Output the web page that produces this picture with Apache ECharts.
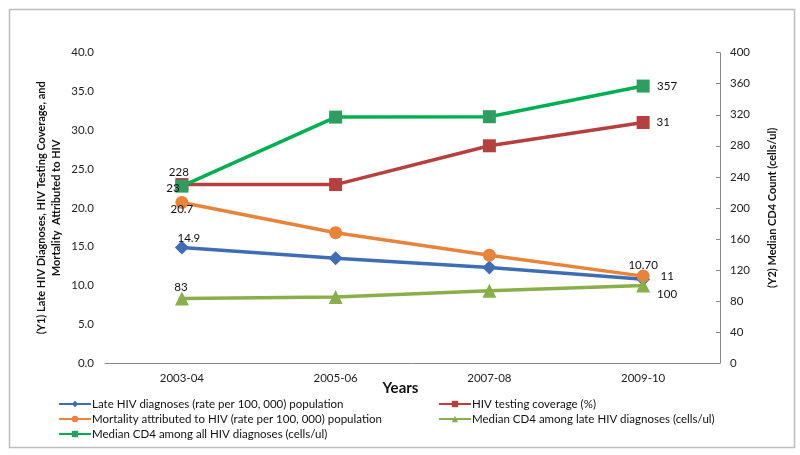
<!DOCTYPE html>
<html>
<head>
<meta charset="utf-8">
<script src="https://cdn.jsdelivr.net/npm/echarts@6/dist/echarts.min.js"></script>
<style>html,body{margin:0;padding:0;background:#fff}#c{width:800px;height:455px}</style>
</head>
<body>
<div id="c"></div>
<script>
const categories = ['2003-04', '2005-06', '2007-08', '2009-10'];
const lateDiag = [14.9, 13.5, 12.3, 10.8];
const testing = [23, 23, 28, 31];
const mortality = [20.7, 16.8, 13.9, 11.2];
const cd4Late = [83, 85, 93, 100];
const cd4All = [228, 317, 317.5, 357];
const lateDiagLabels = ['14.9', '', '', '11'];
const testingLabels = ['23', '', '', '31'];
const mortalityLabels = ['20.7', '', '', '10.70'];
const cd4LateLabels = ['83', '', '', '100'];
const cd4AllLabels = ['228', '', '', '357'];
const y1Ticks = { min: 0, max: 40, interval: 5 };
const y2Ticks = { min: 0, max: 400, interval: 40 };

const FONT = 'Lato';
const FS = 11.5;
function withLabels(vals, labels, offsets) {
  return vals.map((v, i) => {
    if (!labels[i]) return v;
    return {
      value: v,
      label: {
        show: true, formatter: labels[i], position: 'inside',
        offset: offsets[i], color: '#111', fontSize: FS, fontFamily: FONT
      }
    };
  });
}
function ser(name, data, color, symbol, size, yIdx, symColor) {
  return {
    name, type: 'line', data, yAxisIndex: yIdx,
    symbol, symbolSize: size,
    itemStyle: { color: symColor || color },
    lineStyle: { color, width: 3.5 },
    emphasis: { disabled: true },
    label: { show: false }
  };
}
const legendCommon = {
  orient: 'vertical', top: 397, padding: 0,
  itemWidth: 32, itemHeight: 8, itemGap: 1,
  textStyle: { fontSize: FS, color: '#111', fontFamily: FONT, lineHeight: 14, padding: [0, 0, 0, -4] }
};
const chart = echarts.init(document.getElementById('c'), null, { renderer: 'canvas' });
chart.setOption({
  animation: false,
  backgroundColor: '#fff',
  textStyle: { fontFamily: FONT },
  grid: { left: 105, right: 80, top: 52.7, bottom: 92 },
  xAxis: {
    type: 'category', data: categories, boundaryGap: true,
    axisLine: { lineStyle: { color: '#868686', width: 1 } },
    axisTick: { show: false },
    axisLabel: { color: '#222', fontSize: FS, margin: 9, fontFamily: FONT },
    name: 'Years', nameLocation: 'middle', nameGap: 18, nameMoveOverlap: false,
    nameTextStyle: { fontWeight: 'bold', fontSize: 15, color: '#111', fontFamily: FONT, padding: [0, 24, 0, 0] }
  },
  yAxis: [{
    type: 'value', min: y1Ticks.min, max: y1Ticks.max, interval: y1Ticks.interval,
    axisLine: { show: false }, axisTick: { show: false }, splitLine: { show: false },
    axisLabel: { color: '#222', fontSize: FS, margin: 11, fontFamily: FONT, formatter: v => v.toFixed(1) },
    name: '(Y1) Late HIV Diagnoses, HIV Testing Coverage, and\nMortality  Attributed to HIV',
    nameLocation: 'middle', nameGap: 41, nameRotate: 90, nameMoveOverlap: false,
    nameTextStyle: { fontWeight: 'bold', fontSize: 11, lineHeight: 15, color: '#111', fontFamily: FONT }
  }, {
    type: 'value', position: 'right', min: y2Ticks.min, max: y2Ticks.max, interval: y2Ticks.interval,
    axisLine: { show: true, lineStyle: { color: '#868686', width: 1 } },
    axisTick: { show: true, inside: true, length: 4, lineStyle: { color: '#868686' } },
    splitLine: { show: false },
    axisLabel: { color: '#222', fontSize: FS, margin: 10, fontFamily: FONT },
    name: '(Y2) Median CD4 Count (cells/ul)',
    nameLocation: 'middle', nameGap: 47, nameRotate: 90,
    nameTextStyle: { fontWeight: 'bold', fontSize: 11, color: '#111', fontFamily: FONT }
  }],
  legend: [Object.assign({}, legendCommon, {
    left: 58,
    data: ['Late HIV diagnoses (rate per 100, 000) population',
           'Mortality attributed to HIV (rate per 100, 000) population',
           'Median CD4 among all HIV diagnoses (cells/ul)']
  }), Object.assign({}, legendCommon, {
    left: 438,
    data: ['HIV testing coverage (%)',
           'Median CD4 among late HIV diagnoses (cells/ul)']
  })],
  graphic: [{
    type: 'rect', left: 7, top: 7, silent: true,
    shape: { width: 785, height: 438 },
    style: { fill: 'none', stroke: '#bdbdbd', lineWidth: 1.5 }
  }],
  series: [
    ser('Late HIV diagnoses (rate per 100, 000) population',
        withLabels(lateDiag, lateDiagLabels, [[7, -9], 0, 0, [24, -3]]), '#3E6DB5', 'diamond', 14, 0),
    ser('HIV testing coverage (%)',
        withLabels(testing, testingLabels, [[-9, 4], 0, 0, [20, 0]]), '#B5403D', 'rect', 13, 0),
    ser('Mortality attributed to HIV (rate per 100, 000) population',
        withLabels(mortality, mortalityLabels, [[0, 7], 0, 0, [0, -11]]), '#E8833A', 'circle', 13, 0),
    ser('Median CD4 among late HIV diagnoses (cells/ul)',
        withLabels(cd4Late, cd4LateLabels, [[-1, -11], 0, 0, [24, 9]]), '#8AAF4A', 'triangle', 14, 1),
    ser('Median CD4 among all HIV diagnoses (cells/ul)',
        withLabels(cd4All, cd4AllLabels, [[-3, -14], 0, 0, [24, 0]]), '#00B050', 'rect', 13, 1, '#2E9E60')
  ]
});
</script>
</body>
</html>
